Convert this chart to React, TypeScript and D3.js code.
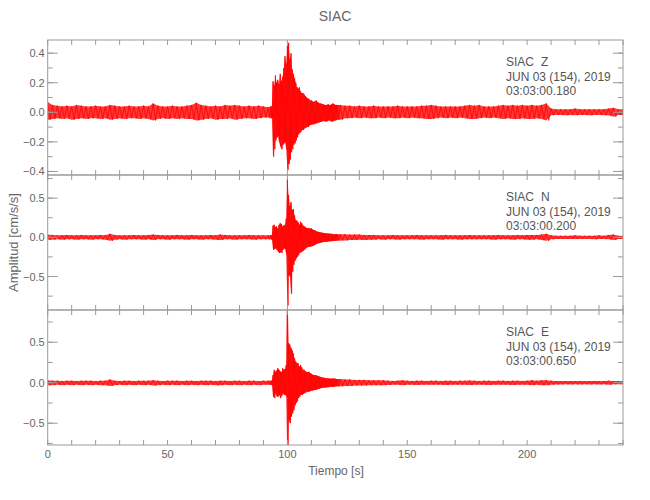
import * as d3 from 'd3';

const WIDTH = 650;
const HEIGHT = 500;
const PLOT_LEFT = 47.7;
const PLOT_RIGHT = 623;
const PANEL_TOP = 40;
const PANEL_H = 135;

const TITLE = 'SIAC';
const STATION = 'SIAC';
const DATE_LABEL = 'JUN 03 (154), 2019';
const X_LABEL = 'Tiempo [s]';
const Y_LABEL = 'Amplitud [cm/s/s]';

// sample grid for the amplitude envelopes: coarse in the noise, finer across the burst
const sampleTimes = [
  ...d3.range(0, 93, 2),
  ...d3.range(93, 121.25, 0.5),
  ...d3.range(122, 241, 2),
];

// envelope (upper / lower peaks), cm/s/s
const zHi = [
  0.07, 0.05, 0.045, 0.04, 0.045, 0.04, 0.05, 0.045, 0.04, 0.04,
  0.045, 0.04, 0.04, 0.05, 0.045, 0.04, 0.04, 0.045, 0.04, 0.04,
  0.045, 0.04, 0.06, 0.045, 0.04, 0.04, 0.045, 0.04, 0.04, 0.045,
  0.05, 0.065, 0.05, 0.045, 0.04, 0.045, 0.04, 0.05, 0.045, 0.05,
  0.045, 0.04, 0.045, 0.04, 0.045, 0.04, 0.035,
  0.04, 0.04,
  0.21, 0.18, 0.25, 0.2, 0.22, 0.19, 0.26, 0.21, 0.24, 0.3,
  0.38, 0.33, 0.45, 0.47, 0.36, 0.4, 0.29, 0.26, 0.23, 0.2,
  0.17, 0.16, 0.17, 0.14, 0.13, 0.13, 0.12, 0.11, 0.1, 0.095,
  0.09, 0.08, 0.08, 0.075, 0.07, 0.075, 0.08, 0.07, 0.065, 0.06,
  0.06, 0.055, 0.055, 0.05, 0.05, 0.05, 0.055, 0.05, 0.05, 0.055,
  0.06, 0.055, 0.05, 0.05, 0.05,
  0.05, 0.045, 0.045, 0.04, 0.045, 0.04, 0.04, 0.045, 0.04, 0.04,
  0.04, 0.04, 0.045, 0.04, 0.04, 0.04, 0.04, 0.045, 0.045, 0.05,
  0.045, 0.04, 0.04, 0.04, 0.04, 0.04, 0.045, 0.05, 0.045, 0.05,
  0.04, 0.04, 0.04, 0.045, 0.05, 0.045, 0.05, 0.045, 0.05, 0.045,
  0.05, 0.045, 0.05, 0.06, 0.025, 0.02, 0.02, 0.02, 0.02, 0.025,
  0.02, 0.02, 0.02, 0.02, 0.02, 0.02, 0.025, 0.03, 0.02, 0.02,
];
const zLo = [
  -0.05, -0.045, -0.04, -0.045, -0.04, -0.05, -0.045, -0.04, -0.045, -0.04,
  -0.04, -0.045, -0.04, -0.05, -0.045, -0.04, -0.045, -0.04, -0.04, -0.045,
  -0.04, -0.045, -0.055, -0.045, -0.04, -0.045, -0.04, -0.045, -0.04, -0.045,
  -0.045, -0.055, -0.05, -0.045, -0.04, -0.05, -0.045, -0.045, -0.04, -0.05,
  -0.045, -0.04, -0.04, -0.045, -0.04, -0.035, -0.035,
  -0.04, -0.04,
  -0.3, -0.25, -0.19, -0.17, -0.16, -0.2, -0.23, -0.25, -0.22, -0.21,
  -0.2, -0.25, -0.39, -0.35, -0.32, -0.27, -0.25, -0.22, -0.21, -0.19,
  -0.17, -0.15, -0.14, -0.13, -0.12, -0.12, -0.11, -0.105, -0.1, -0.1,
  -0.09, -0.085, -0.085, -0.08, -0.08, -0.075, -0.075, -0.07, -0.07, -0.065,
  -0.065, -0.06, -0.06, -0.06, -0.063, -0.06, -0.055, -0.055, -0.06, -0.063,
  -0.06, -0.055, -0.055, -0.05, -0.05,
  -0.05, -0.04, -0.04, -0.035, -0.04, -0.035, -0.04, -0.04, -0.035, -0.04,
  -0.035, -0.04, -0.04, -0.035, -0.04, -0.035, -0.04, -0.04, -0.045, -0.045,
  -0.04, -0.035, -0.04, -0.035, -0.04, -0.035, -0.04, -0.045, -0.045, -0.04,
  -0.035, -0.04, -0.035, -0.04, -0.045, -0.04, -0.045, -0.045, -0.04, -0.045,
  -0.045, -0.04, -0.045, -0.055, -0.02, -0.018, -0.018, -0.02, -0.018, -0.02,
  -0.018, -0.018, -0.02, -0.018, -0.018, -0.02, -0.02, -0.03, -0.018, -0.018,
];

const nHi = [
  0.035, 0.03, 0.025, 0.025, 0.03, 0.025, 0.025, 0.03, 0.025, 0.025,
  0.025, 0.03, 0.025, 0.045, 0.03, 0.025, 0.025, 0.025, 0.03, 0.025,
  0.025, 0.03, 0.035, 0.03, 0.025, 0.025, 0.025, 0.03, 0.025, 0.025,
  0.03, 0.025, 0.025, 0.025, 0.03, 0.025, 0.035, 0.03, 0.025, 0.025,
  0.025, 0.025, 0.03, 0.025, 0.025, 0.025, 0.025,
  0.025, 0.03,
  0.15, 0.16, 0.13, 0.14, 0.11, 0.16, 0.18, 0.17, 0.14, 0.15,
  0.16, 0.24, 0.75, 0.54, 0.4, 0.45, 0.35, 0.36, 0.28, 0.22,
  0.21, 0.19, 0.16, 0.2, 0.18, 0.15, 0.14, 0.13, 0.12, 0.115,
  0.12, 0.11, 0.115, 0.1, 0.095, 0.09, 0.08, 0.07, 0.07, 0.065,
  0.06, 0.06, 0.055, 0.055, 0.05, 0.05, 0.05, 0.045, 0.045, 0.045,
  0.04, 0.04, 0.04, 0.04, 0.04,
  0.04, 0.04, 0.035, 0.035, 0.035, 0.03, 0.03, 0.03, 0.025, 0.025,
  0.025, 0.03, 0.025, 0.025, 0.025, 0.025, 0.03, 0.025, 0.025, 0.025,
  0.025, 0.025, 0.03, 0.025, 0.025, 0.025, 0.025, 0.03, 0.025, 0.025,
  0.025, 0.025, 0.025, 0.03, 0.025, 0.025, 0.025, 0.03, 0.025, 0.03,
  0.03, 0.03, 0.035, 0.045, 0.025, 0.02, 0.02, 0.02, 0.02, 0.025,
  0.02, 0.02, 0.02, 0.02, 0.025, 0.02, 0.03, 0.035, 0.02, 0.02,
];
const nLo = [
  -0.03, -0.03, -0.025, -0.03, -0.025, -0.025, -0.03, -0.025, -0.025, -0.03,
  -0.025, -0.025, -0.03, -0.045, -0.03, -0.025, -0.03, -0.025, -0.025, -0.025,
  -0.03, -0.025, -0.035, -0.025, -0.025, -0.03, -0.025, -0.025, -0.025, -0.03,
  -0.025, -0.025, -0.03, -0.025, -0.025, -0.03, -0.035, -0.025, -0.025, -0.03,
  -0.025, -0.025, -0.025, -0.03, -0.025, -0.025, -0.025,
  -0.025, -0.03,
  -0.16, -0.15, -0.14, -0.16, -0.18, -0.2, -0.19, -0.2, -0.16, -0.14,
  -0.15, -0.22, -0.87, -0.48, -0.5, -0.72, -0.44, -0.35, -0.3, -0.27,
  -0.25, -0.23, -0.2, -0.19, -0.18, -0.17, -0.16, -0.14, -0.13, -0.12,
  -0.12, -0.12, -0.115, -0.11, -0.1, -0.095, -0.085, -0.077, -0.075, -0.07,
  -0.065, -0.062, -0.06, -0.058, -0.055, -0.055, -0.052, -0.05, -0.05, -0.048,
  -0.047, -0.045, -0.045, -0.042, -0.04,
  -0.04, -0.04, -0.035, -0.035, -0.03, -0.035, -0.03, -0.03, -0.025, -0.03,
  -0.025, -0.025, -0.03, -0.025, -0.025, -0.025, -0.025, -0.03, -0.025, -0.025,
  -0.025, -0.03, -0.025, -0.025, -0.025, -0.03, -0.025, -0.025, -0.025, -0.025,
  -0.025, -0.025, -0.03, -0.025, -0.025, -0.025, -0.03, -0.025, -0.025, -0.03,
  -0.03, -0.025, -0.035, -0.045, -0.025, -0.02, -0.02, -0.02, -0.02, -0.02,
  -0.02, -0.02, -0.02, -0.025, -0.02, -0.02, -0.025, -0.035, -0.02, -0.02,
];

const eHi = [
  0.03, 0.025, 0.025, 0.02, 0.025, 0.025, 0.02, 0.025, 0.025, 0.025,
  0.02, 0.025, 0.025, 0.04, 0.025, 0.02, 0.025, 0.025, 0.02, 0.025,
  0.025, 0.025, 0.03, 0.025, 0.02, 0.025, 0.025, 0.025, 0.02, 0.025,
  0.025, 0.02, 0.025, 0.025, 0.025, 0.02, 0.025, 0.025, 0.02, 0.025,
  0.025, 0.02, 0.025, 0.025, 0.02, 0.025, 0.025,
  0.025, 0.025,
  0.095, 0.16, 0.135, 0.15, 0.18, 0.16, 0.14, 0.13, 0.18, 0.16,
  0.17, 0.22, 1.25, 0.49, 0.47, 0.43, 0.4, 0.36, 0.3, 0.26,
  0.24, 0.24, 0.2, 0.22, 0.19, 0.16, 0.16, 0.14, 0.135, 0.13,
  0.135, 0.12, 0.11, 0.1, 0.095, 0.095, 0.09, 0.085, 0.08, 0.075,
  0.07, 0.065, 0.06, 0.06, 0.055, 0.055, 0.055, 0.05, 0.05, 0.05,
  0.055, 0.05, 0.05, 0.045, 0.045,
  0.045, 0.04, 0.04, 0.035, 0.035, 0.035, 0.03, 0.03, 0.03, 0.03,
  0.025, 0.022, 0.025, 0.03, 0.025, 0.022, 0.025, 0.025, 0.022, 0.025,
  0.025, 0.022, 0.025, 0.025, 0.022, 0.025, 0.025, 0.028, 0.025, 0.022,
  0.025, 0.025, 0.022, 0.025, 0.025, 0.022, 0.025, 0.025, 0.022, 0.025,
  0.03, 0.025, 0.03, 0.03, 0.025, 0.02, 0.02, 0.022, 0.02, 0.02,
  0.022, 0.02, 0.02, 0.022, 0.02, 0.02, 0.025, 0.02, 0.02, 0.02,
];
const eLo = [
  -0.03, -0.03, -0.025, -0.03, -0.025, -0.03, -0.025, -0.03, -0.025, -0.03,
  -0.025, -0.03, -0.03, -0.04, -0.03, -0.025, -0.03, -0.025, -0.03, -0.025,
  -0.03, -0.025, -0.035, -0.03, -0.025, -0.03, -0.025, -0.03, -0.025, -0.03,
  -0.025, -0.03, -0.025, -0.03, -0.025, -0.03, -0.03, -0.025, -0.03, -0.025,
  -0.03, -0.025, -0.03, -0.025, -0.03, -0.025, -0.025,
  -0.025, -0.03,
  -0.17, -0.19, -0.13, -0.17, -0.17, -0.15, -0.19, -0.16, -0.13, -0.15,
  -0.15, -0.17, -1.05, -0.46, -0.5, -0.42, -0.38, -0.34, -0.28, -0.25,
  -0.23, -0.19, -0.17, -0.15, -0.15, -0.14, -0.13, -0.12, -0.11, -0.11,
  -0.11, -0.1, -0.1, -0.095, -0.09, -0.09, -0.085, -0.08, -0.075, -0.07,
  -0.065, -0.065, -0.06, -0.06, -0.058, -0.055, -0.055, -0.052, -0.05, -0.05,
  -0.05, -0.048, -0.045, -0.045, -0.045,
  -0.045, -0.04, -0.04, -0.035, -0.035, -0.033, -0.03, -0.03, -0.03, -0.03,
  -0.028, -0.025, -0.025, -0.03, -0.025, -0.025, -0.028, -0.025, -0.025, -0.025,
  -0.025, -0.025, -0.028, -0.025, -0.025, -0.025, -0.025, -0.028, -0.025, -0.025,
  -0.025, -0.028, -0.025, -0.025, -0.025, -0.025, -0.028, -0.025, -0.025, -0.025,
  -0.03, -0.025, -0.03, -0.03, -0.025, -0.022, -0.022, -0.02, -0.022, -0.02,
  -0.022, -0.02, -0.022, -0.02, -0.022, -0.02, -0.025, -0.02, -0.02, -0.02,
];

const components = ['Z', 'N', 'E'];
const startTimes = ['03:03:00.180', '03:03:00.200', '03:03:00.650'];
const yDomains: [number, number][] = [[-0.424, 0.489], [-0.927, 0.795], [-0.769, 0.898]];
const yMajor = [[-0.4, -0.2, 0, 0.2, 0.4], [-0.5, 0, 0.5], [-0.5, 0, 0.5]];
const yMinorStep = [0.1, 0.25, 0.25];
const highs = [zHi, nHi, eHi];
const lows = [zLo, nLo, eLo];

const xMajor = [0, 50, 100, 150, 200];

const AXIS = '#9a9a9a';
const TEXT = '#666';
const FONT = '"Liberation Sans", Arial, sans-serif';

const x = d3.scaleLinear().domain([0, 240]).range([PLOT_LEFT, PLOT_RIGHT]);
const fmt = d3.format('.1f');

type Sample = { t: number; hi: number; lo: number };

function Panel({ i }: { i: number }) {
  const top = PANEL_TOP + i * PANEL_H;
  const bottom = top + PANEL_H;
  const y = d3.scaleLinear().domain(yDomains[i]).range([bottom, top]);
  const hi = highs[i];
  const lo = lows[i];
  const pts: Sample[] = sampleTimes
    .map((t, k) => ({ t, hi: hi[k], lo: lo[k] }))
    .filter((d) => d.hi !== undefined && d.lo !== undefined);

  const area = d3
    .area<Sample>()
    .x((d) => x(d.t))
    .y0((d) => y(d.lo))
    .y1((d) => y(d.hi));

  // trace drawn as a swing from each upper peak to the matching lower peak
  const swing = d3.line<[number, number]>();
  const swingPts: [number, number][] = [];
  pts.forEach((d, k) => {
    const next = pts[k + 1];
    const mid = next ? (d.t + next.t) / 2 : d.t;
    swingPts.push([x(d.t), y(d.hi)]);
    swingPts.push([x(mid), y(d.lo)]);
  });

  const [d0, d1] = yDomains[i];
  const step = yMinorStep[i];
  const yMinor = d3.range(Math.ceil(d0 / step) * step, d1, step);
  const xMinor = d3.range(0, 241, 10);
  const clipId = `clip-${i}`;
  return (
    <g>
      <defs>
        <clipPath id={clipId}>
          <rect x={PLOT_LEFT} y={top} width={PLOT_RIGHT - PLOT_LEFT} height={PANEL_H} />
        </clipPath>
      </defs>
      <g clipPath={`url(#${clipId})`}>
        <path d={area(pts) ?? ''} fill="#ff0000" fillOpacity={0.78} stroke="none" />
        <path
          d={swing(swingPts) ?? ''}
          fill="none"
          stroke="#ff0000"
          strokeWidth={0.8}
          strokeLinejoin="round"
        />
      </g>
      <rect
        x={PLOT_LEFT}
        y={top}
        width={PLOT_RIGHT - PLOT_LEFT}
        height={PANEL_H}
        fill="none"
        stroke={AXIS}
        strokeWidth={1}
      />
      {xMinor.map((t) => (
        <g key={`x${t}`} stroke={AXIS}>
          <line x1={x(t)} x2={x(t)} y1={top} y2={top + 5} />
          <line x1={x(t)} x2={x(t)} y1={bottom} y2={bottom - 5} />
        </g>
      ))}
      {yMinor.map((v) => (
        <g key={`ym${v}`} stroke={AXIS}>
          <line x1={PLOT_LEFT} x2={PLOT_LEFT + 5} y1={y(v)} y2={y(v)} />
          <line x1={PLOT_RIGHT} x2={PLOT_RIGHT - 5} y1={y(v)} y2={y(v)} />
        </g>
      ))}
      {yMajor[i].map((v) => (
        <g key={`yM${v}`}>
          <line x1={PLOT_LEFT} x2={PLOT_LEFT + 10} y1={y(v)} y2={y(v)} stroke={AXIS} />
          <line x1={PLOT_RIGHT} x2={PLOT_RIGHT - 10} y1={y(v)} y2={y(v)} stroke={AXIS} />
          <text
            x={PLOT_LEFT - 3}
            y={y(v) + 4}
            textAnchor="end"
            fontSize={11}
            fill={TEXT}
          >
            {fmt(v)}
          </text>
        </g>
      ))}
      <g fontSize={12} fill="#555">
        <text x={506} y={top + 26}>{STATION}</text>
        <text x={541} y={top + 26}>{components[i]}</text>
        <text x={506} y={top + 40.5}>{DATE_LABEL}</text>
        <text x={506} y={top + 55}>{startTimes[i]}</text>
      </g>
    </g>
  );
}

export default function App() {
  const bottom = PANEL_TOP + 3 * PANEL_H;
  return (
    <div style={{ position: 'absolute', left: 0, top: 0 }}>
      <svg width={WIDTH} height={HEIGHT} fontFamily={FONT} style={{ display: 'block', background: '#fff' }}>
        <text x={335} y={21} textAnchor="middle" fontSize={14} fill={TEXT}>
          {TITLE}
        </text>
        {components.map((_, i) => (
          <Panel key={i} i={i} />
        ))}
        {xMajor.map((t) => (
          <text key={t} x={x(t)} y={458} textAnchor="middle" fontSize={11} fill={TEXT}>
            {t}
          </text>
        ))}
        <text x={336} y={475} textAnchor="middle" fontSize={12} fill={TEXT}>
          {X_LABEL}
        </text>
        <text
          transform={`translate(18, ${(PANEL_TOP + bottom) / 2}) rotate(-90)`}
          textAnchor="middle"
          fontSize={13}
          fill={TEXT}
        >
          {Y_LABEL}
        </text>
      </svg>
    </div>
  );
}
